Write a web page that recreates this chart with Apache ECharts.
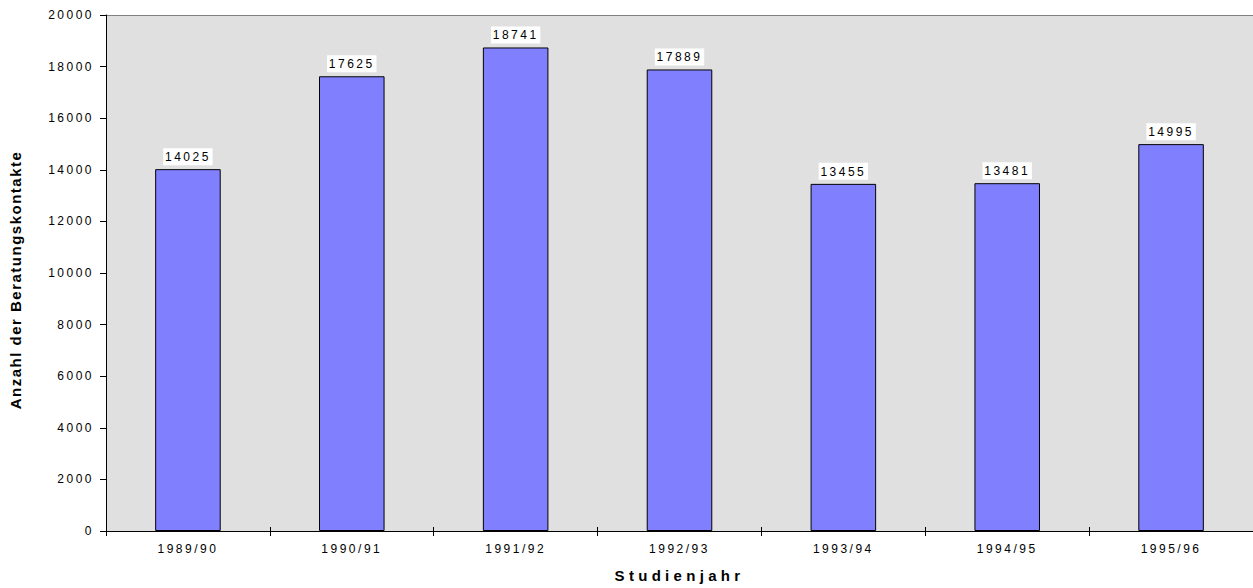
<!DOCTYPE html>
<html>
<head>
<meta charset="utf-8">
<script src="https://cdn.jsdelivr.net/npm/echarts@6/dist/echarts.min.js"></script>
<style>
  html, body { margin: 0; padding: 0; background: #fff; }
  #chart { width: 1253px; height: 588px; }
  /* wide tracking for tick and value labels */
  #chart svg text { letter-spacing: 2.5px; }
  /* x axis title is spaced even wider */
  #chart svg text[style*="sans-serif"] { letter-spacing: 4.3px; }
  /* y axis title has lighter tracking */
  #chart svg text[style*="Liberation"] { letter-spacing: 1.5px; }
</style>
</head>
<body>
<div id="chart"></div>
<script>
// Beratungskontakte je Studienjahr
const studienjahre = ['1989/90', '1990/91', '1991/92', '1992/93', '1993/94', '1994/95', '1995/96'];
const kontakte = [14025, 17625, 18741, 17889, 13455, 13481, 14995];

const chart = echarts.init(document.getElementById('chart'), null, { renderer: 'svg' });
const font = 'Arial';

chart.setOption({
  animation: false,
  grid: { left: 106, right: 0, top: 15, bottom: 56, show: true, backgroundColor: '#e0e0e0', borderWidth: 0 },
  xAxis: [{
    type: 'category',
    data: studienjahre,
    name: 'Studienjahr',
    nameLocation: 'middle',
    nameGap: 37,
    nameTextStyle: { fontFamily: 'Arial, sans-serif', fontSize: 15, fontWeight: 'bold', color: '#000' },
    axisLine: { lineStyle: { color: '#000', width: 1 } },
    axisTick: { show: true, length: 5, lineStyle: { color: '#000' } },
    axisLabel: { fontFamily: font, fontSize: 12, color: '#000', margin: 12 },
    splitLine: { show: false }
  }, {
    // inner half of the category ticks
    type: 'category',
    data: studienjahre,
    position: 'bottom',
    axisLine: { show: false },
    axisTick: { show: true, inside: true, length: 4, lineStyle: { color: '#000' } },
    axisLabel: { show: false },
    splitLine: { show: false }
  }],
  yAxis: [{
    type: 'value',
    min: 0,
    max: 20000,
    interval: 2000,
    name: 'Anzahl der Beratungskontakte',
    nameLocation: 'middle',
    nameGap: 83,
    nameTextStyle: { fontFamily: '"Liberation Sans"', fontSize: 15, fontWeight: 'bold', color: '#000', padding: [0, 14, 0, 0] },
    axisLine: { show: true, lineStyle: { color: '#000', width: 1 } },
    axisTick: { show: true, length: 6, lineStyle: { color: '#000' } },
    axisLabel: { fontFamily: font, fontSize: 12, color: '#000', margin: 12, formatter: v => String(v) },
    splitLine: { show: false }
  }],
  series: [{
    type: 'bar',
    data: kontakte,
    barWidth: '40%',
    itemStyle: { color: '#8080ff', borderColor: '#000', borderWidth: 1 },
    label: {
      show: true,
      position: 'top',
      distance: 4,
      fontFamily: font,
      fontSize: 12,
      color: '#000',
      backgroundColor: '#fff',
      padding: [3, 8, 2, 8]
    }
  }],
  graphic: [{
    type: 'line',
    shape: { x1: 106, y1: 15.5, x2: 1253, y2: 15.5 },
    style: { stroke: '#808080', lineWidth: 1 }
  }]
});
</script>
</body>
</html>
